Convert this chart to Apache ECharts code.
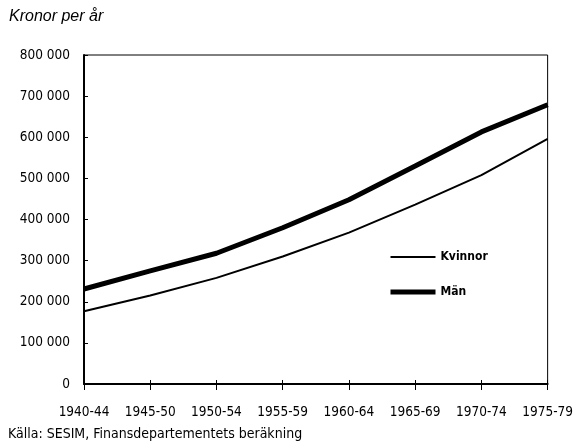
<!DOCTYPE html>
<html>
<head>
<meta charset="utf-8">
<script src="https://cdn.jsdelivr.net/npm/echarts@6/dist/echarts.min.js"></script>
<style>html,body{margin:0;padding:0;background:#fff}#c{width:576px;height:448px}</style>
</head>
<body>
<div id="c"></div>
<script>
var categories = ['1940-44','1945-50','1950-54','1955-59','1960-64','1965-69','1970-74','1975-79'];
var kvinnor = [177000, 215000, 258000, 310000, 368000, 436000, 508000, 596000];
var man = [231000, 275000, 318000, 380000, 448000, 530000, 613000, 679000];
var yTicks = [0,100000,200000,300000,400000,500000,600000,700000,800000];

var FONT = '"Liberation Sans Narrow", "DejaVu Sans Condensed", sans-serif';
var chart = echarts.init(document.getElementById('c'));
function fmt(v){ return v === 0 ? '0' : String(v).replace(/\B(?=(\d{3})+(?!\d))/g, ' '); }
var hidden = {color: 'rgba(0,0,0,0)', borderWidth: 0, borderColor: 'rgba(0,0,0,0)'};
chart.setOption({
  animation: false,
  backgroundColor: '#fff',
  title: [
    {text: 'Kronor per år', left: 9, top: 9, padding: 0,
     textStyle: {fontFamily: '"Liberation Sans", Arial, sans-serif', fontStyle: 'italic', fontWeight: 'normal', fontSize: 16, color: '#000'}},
    {text: 'Källa: SESIM, Finansdepartementets beräkning', left: 8, top: 427, padding: 0,
     textStyle: {fontFamily: FONT, fontWeight: 'normal', fontSize: 14, color: '#000'}}
  ],
  legend: {
    orient: 'vertical', left: 388, top: 251, padding: 0,
    itemWidth: 45, itemHeight: 14, itemGap: 23,
    textStyle: {fontFamily: FONT, fontWeight: 'bold', fontSize: 12, color: '#000'},
    data: [
      {name: 'Kvinnor', itemStyle: hidden, lineStyle: {color: '#000', width: 2}},
      {name: 'Män', itemStyle: hidden, lineStyle: {color: '#000', width: 5}}
    ]
  },
  grid: {left: 84, right: 28, top: 55, bottom: 64, show: true, borderColor: '#000', borderWidth: 1, backgroundColor: 'transparent'},
  xAxis: [{
    type: 'category', data: categories, boundaryGap: false,
    axisLine: {lineStyle: {color: '#000', width: 2}},
    axisTick: {show: true, inside: false, length: 6, lineStyle: {color: '#000', width: 1}},
    axisLabel: {fontFamily: FONT, fontSize: 13.5, color: '#000', margin: 21, interval: 0},
    splitLine: {show: false}
  }, {
    type: 'category', data: categories, boundaryGap: false, position: 'bottom',
    axisLine: {show: false},
    axisTick: {show: true, inside: true, length: 4, lineStyle: {color: '#000', width: 1}},
    axisLabel: {show: false},
    splitLine: {show: false}
  }],
  yAxis: {
    type: 'value', min: 0, max: 800000, interval: 100000,
    axisLine: {show: true, lineStyle: {color: '#000', width: 2}},
    axisTick: {show: true, inside: true, length: 4, lineStyle: {color: '#000'}},
    axisLabel: {fontFamily: FONT, fontSize: 13.5, color: '#000', margin: 14, formatter: fmt},
    splitLine: {show: false}
  },
  series: [
    {name: 'Kvinnor', type: 'line', data: kvinnor, symbol: 'none', lineStyle: {color: '#000', width: 2}, itemStyle: {color: '#000'}},
    {name: 'Män', type: 'line', data: man, symbol: 'none', lineStyle: {color: '#000', width: 5}, itemStyle: {color: '#000'}}
  ]
});
</script>
</body>
</html>
